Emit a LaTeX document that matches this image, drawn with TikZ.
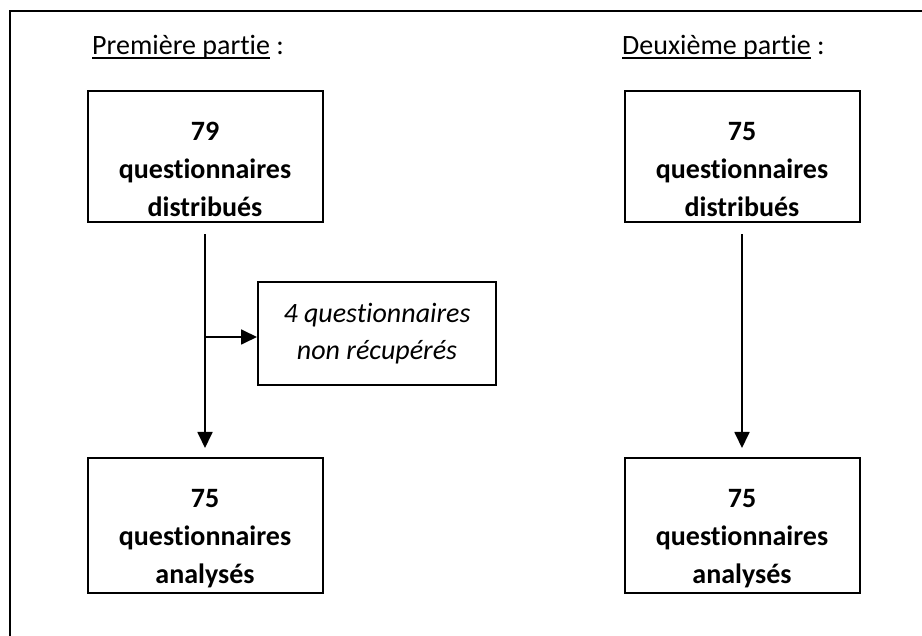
\documentclass[tikz,border=0pt]{standalone}
\usepackage{fontspec}
\setmainfont[Ligatures=NoCommon]{Carlito}
\usetikzlibrary{arrows.meta}
\newcommand{\partline}[1]{\setbox0\hbox{#1}\rlap{\rule[-4pt]{\wd0}{1.5pt}}\box0\relax}
\newcommand{\tally}[2]{\rule{0pt}{44pt}#1\\questionnaires\\#2}
\tikzset{
  countbox/.style={draw, line width=2pt, minimum width=235pt, minimum height=131pt,
    align=center, font=\fontsize{28}{38}\selectfont\bfseries},
  lostbox/.style={draw, line width=2pt, minimum width=238pt, minimum height=103pt,
    align=center, font=\fontsize{28}{37}\selectfont\itshape},
  heading/.style={anchor=base west, inner sep=0pt, font=\fontsize{28}{34}\selectfont},
  flow/.style={line width=1.8pt, -{Triangle[length=16pt,width=15pt]}}
}
\begin{document}
\begin{tikzpicture}[x=1pt,y=-1pt]
      \useasboundingbox (0,0) rectangle (922,636);
      \draw[line width=2.5pt] (10,636) -- (10,11) -- (922,11);
      \draw
        (92,55) node[heading] (head1) {\partline{Première partie} :}
        (622,55) node[heading] (head2) {\partline{Deuxième partie} :}
        (205,157) node[countbox] (dist1) {\tally{79}{distribués}}
        (205,525.5) node[countbox, minimum height=135pt] (anal1) {\tally{75}{analysés}}
        (377,334) node[lostbox] (lost) {4 questionnaires\\non récupérés}
        (742,157) node[countbox] (dist2) {\tally{75}{distribués}}
        (742,525.5) node[countbox, minimum height=135pt] (anal2) {\tally{75}{analysés}};
      \coordinate (split) at (205,337);
      \begin{scope}[flow]
        \draw[shorten <=11pt, shorten >=9pt] (dist1) to (anal1);
        \draw (split) to (split -| lost.west);
        \draw[shorten <=11pt, shorten >=9pt] (dist2) to (anal2);
      \end{scope}
    \end{tikzpicture}
\end{document}
